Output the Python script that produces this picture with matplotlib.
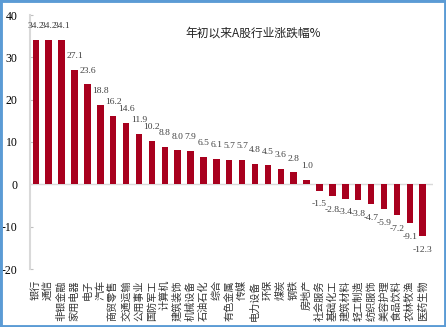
import matplotlib.pyplot as plt
from matplotlib.patches import Rectangle

industries = ["银行", "通信", "非银金融", "家用电器", "电子", "汽车", "商贸零售", "交通运输",
              "公用事业", "国防军工", "计算机", "建筑装饰", "机械设备", "石油石化", "综合",
              "有色金属", "传媒", "电力设备", "环保", "煤炭", "钢铁", "房地产", "社会服务",
              "基础化工", "建筑材料", "轻工制造", "纺织服饰", "美容护理", "食品饮料",
              "农林牧渔", "医药生物"]
changes = [34.2, 34.2, 34.1, 27.1, 23.6, 18.8, 16.2, 14.6, 11.9, 10.2, 8.8, 8.0, 7.9, 6.5,
           6.1, 5.7, 5.7, 4.8, 4.5, 3.6, 2.8, 1.0, -1.5, -2.8, -3.4, -3.8, -4.7, -5.9,
           -7.2, -9.1, -12.3]

cjk = ["Noto Sans CJK SC", "DejaVu Sans"]
num_font = "Liberation Serif"

fig = plt.figure(figsize=(4.46, 3.27), dpi=100)
ax = fig.add_axes([30 / 446, 58 / 327, 403 / 446, 254 / 327])

x = list(range(len(industries)))
ax.bar(x, changes, width=0.5, color="#A8001E", zorder=3)
ax.axhline(0, color="#d9d9d9", lw=1, zorder=2)

for xi, v in zip(x, changes):
    off = 7 if v >= 0 else -7
    ax.annotate(f"{v:.1f}", (xi, v), xytext=(0, off), textcoords="offset points",
                ha="center", va="bottom" if v >= 0 else "top",
                fontsize=6.8, family=num_font, color="#404040")

ax.set_xlim(-0.45, 30.8)
ax.set_ylim(-20, 40)
ax.set_yticks([-20, -10, 0, 10, 20, 30, 40])
ax.set_yticklabels(["-20", "-10", "0", "10", "20", "30", "40"], family=num_font, fontsize=8.5)
ax.set_xticks(x)
ax.set_xticklabels(industries, rotation=90, family=cjk, fontsize=7.3, va="top",
                   color="#333333")
ax.tick_params(axis="x", length=0, pad=8)
ax.tick_params(axis="y", direction="in", length=2, pad=9, color="#bfbfbf")

for s in ["top", "right", "bottom"]:
    ax.spines[s].set_visible(False)
ax.spines["left"].set_color("#d9d9d9")
ax.spines["left"].set_linewidth(1.5)

fig.text(253 / 446, 1 - 33 / 327, "年初以来A股行业涨跌幅%", family=cjk, fontsize=8.5,
         ha="center", va="center", color="#222222")

fig.patches.append(Rectangle((0, 0), 1, 1, transform=fig.transFigure, fill=False,
                             edgecolor="#5B9BD5", lw=3.5, clip_on=False))

fig.savefig("out.png", dpi=100)
